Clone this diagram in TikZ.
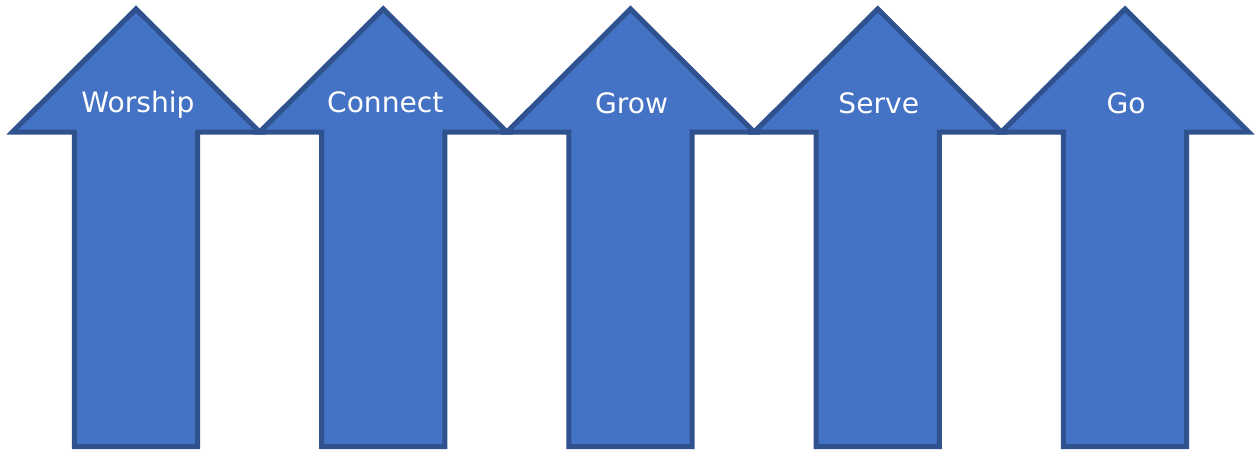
\documentclass[tikz,border=0pt]{standalone}
\usepackage{fontspec}
\setmainfont{DejaVu Sans}
\usetikzlibrary{calc}

\definecolor{arrowfill}{HTML}{4472C4}
\definecolor{arrowline}{HTML}{2F528F}

\tikzset{
  uparrow/.style={fill=arrowfill, draw=arrowline, line width=1mm},
  steplabel/.style={text=white, anchor=base, font=\fontsize{16}{19}\selectfont}
}

\begin{document}
\begin{tikzpicture}[x=0.2mm, y=-0.2mm]
        \useasboundingbox (0,0) rectangle (1256,449);
        % arrow 1
        \begin{scope}
          \filldraw[uparrow] (136,9)-- ++(-123.6,123)-- ++(62,0)-- ++(0,314.5)-- ++(123.2,0)-- ++(0,-314.5)-- ++(62,0)--cycle;
          \node[steplabel] (worship) at (138, 112) {Worship};
        \end{scope}
        % arrow 2
        \begin{scope}[xshift=49.45mm]
          \filldraw[uparrow] (136,9)-- ++(-123.6,123)-- ++(62,0)-- ++(0,314.5)-- ++(123.2,0)-- ++(0,-314.5)-- ++(62,0)--cycle;
          \node[steplabel] (connect) at (138, 112) {Connect};
        \end{scope}
        % arrow 3
        \begin{scope}[xshift=98.9mm]
          \filldraw[uparrow] (136,9)-- ++(-123.6,123)-- ++(62,0)-- ++(0,314.5)-- ++(123.2,0)-- ++(0,-314.5)-- ++(62,0)--cycle;
          \node[steplabel] (grow) at (137, 113) {Grow};
        \end{scope}
        % arrow 4
        \begin{scope}[xshift=148.35mm]
          \filldraw[uparrow] (136,9)-- ++(-123.6,123)-- ++(62,0)-- ++(0,314.5)-- ++(123.2,0)-- ++(0,-314.5)-- ++(62,0)--cycle;
          \node[steplabel] (serve) at (137, 113) {Serve};
        \end{scope}
        % arrow 5
        \begin{scope}[xshift=197.8mm]
          \filldraw[uparrow] (136,9)-- ++(-123.6,123)-- ++(62,0)-- ++(0,314.5)-- ++(123.2,0)-- ++(0,-314.5)-- ++(62,0)--cycle;
          \node[steplabel] (go) at (137, 113) {Go};
        \end{scope}
      \end{tikzpicture}
\end{document}
